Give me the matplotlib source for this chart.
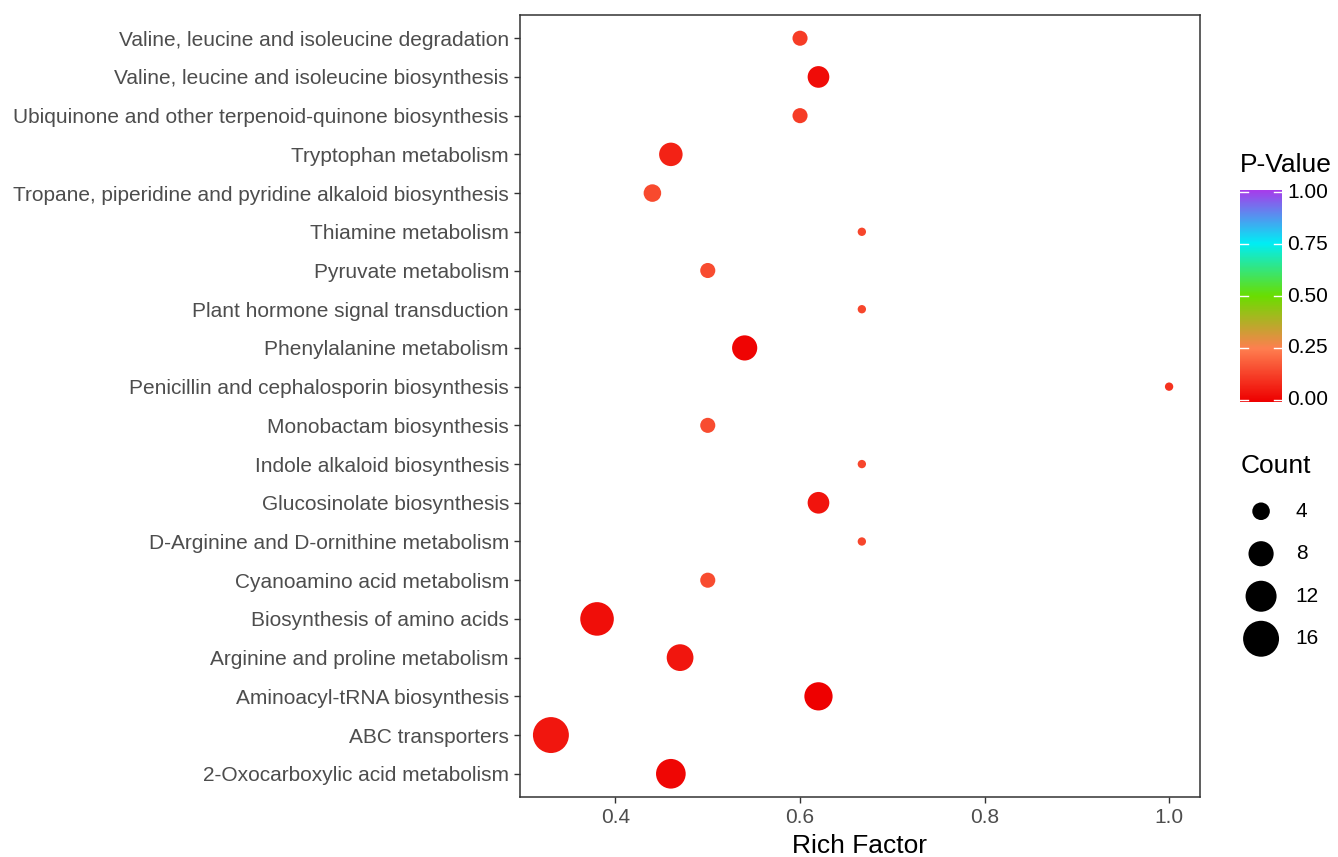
import matplotlib.pyplot as plt
import numpy as np
from matplotlib.colors import LinearSegmentedColormap

plt.rcParams["font.family"] = ["Liberation Sans", "DejaVu Sans"]

# --- data (bottom to top) ---
pathways = [
    "2-Oxocarboxylic acid metabolism",
    "ABC transporters",
    "Aminoacyl-tRNA biosynthesis",
    "Arginine and proline metabolism",
    "Biosynthesis of amino acids",
    "Cyanoamino acid metabolism",
    "D-Arginine and D-ornithine metabolism",
    "Glucosinolate biosynthesis",
    "Indole alkaloid biosynthesis",
    "Monobactam biosynthesis",
    "Penicillin and cephalosporin biosynthesis",
    "Phenylalanine metabolism",
    "Plant hormone signal transduction",
    "Pyruvate metabolism",
    "Thiamine metabolism",
    "Tropane, piperidine and pyridine alkaloid biosynthesis",
    "Tryptophan metabolism",
    "Ubiquinone and other terpenoid-quinone biosynthesis",
    "Valine, leucine and isoleucine biosynthesis",
    "Valine, leucine and isoleucine degradation",
]
rich_factor = [0.46, 0.33, 0.62, 0.47, 0.38, 0.50, 0.667, 0.62, 0.667, 0.50,
               1.00, 0.54, 0.667, 0.50, 0.667, 0.44, 0.46, 0.60, 0.62, 0.60]
counts = [11, 16, 10, 9, 14, 3, 1, 6, 1, 3,
          1, 8, 1, 3, 1, 4, 7, 3, 6, 3]
pvalues = [0.015, 0.045, 0.003, 0.045, 0.03, 0.15, 0.14, 0.04, 0.14, 0.15,
           0.10, 0.01, 0.14, 0.15, 0.14, 0.145, 0.07, 0.12, 0.025, 0.12]

legend_counts = [4, 8, 12, 16]
cbar_ticks = [0.00, 0.25, 0.50, 0.75, 1.00]

# ggplot-like colour gradient
cmap = LinearSegmentedColormap.from_list(
    "pval",
    [(0.0, "#EE0000"), (0.25, "#FF7F50"), (0.5, "#6ADE00"),
     (0.75, "#00EEF5"), (1.0, "#A63DEB")])

# ggplot area_pal-style size mapping -> matplotlib marker area
CMIN, CMAX = 1, 16
PX_PER_GGPT = 1.94


def marker_area(c):
    c = np.asarray(c, dtype=float)
    size = 1 + 5 * (np.sqrt(c) - np.sqrt(CMIN)) / (np.sqrt(CMAX) - np.sqrt(CMIN))
    d_ggpt = size * 2.845 + 0.945
    d_px = d_ggpt * PX_PER_GGPT + 1
    d_mpl = d_px * 72 / 100
    return d_mpl ** 2


W, H = 1338, 857
fig = plt.figure(figsize=(W / 100, H / 100), dpi=100)


def px_rect(x0, y0, x1, y1):
    return [x0 / W, 1 - y1 / H, (x1 - x0) / W, (y1 - y0) / H]


ax = fig.add_axes(px_rect(520, 15, 1200, 797))
ypos = np.arange(len(pathways))
ax.scatter(rich_factor, ypos, s=marker_area(counts), c=pvalues, cmap=cmap,
           vmin=0, vmax=1, edgecolors="none", zorder=3)
ax.set_xlim(0.2965, 1.0335)
ax.set_ylim(-0.6, len(pathways) - 0.4)
ax.set_yticks(ypos)
ax.set_yticklabels(pathways)
ax.set_xticks([0.4, 0.6, 0.8, 1.0])
ax.set_xticklabels(["0.4", "0.6", "0.8", "1.0"])
ax.tick_params(axis="both", colors="#333333", labelcolor="#4D4D4D",
               labelsize=15, length=4, width=1)
ax.tick_params(axis="y", pad=4)
ax.tick_params(axis="x", pad=4)
for sp in ax.spines.values():
    sp.set_color("#333333")
    sp.set_linewidth(1.1)
ax.set_xlabel("Rich Factor", fontsize=19, color="black", labelpad=5)

# colour bar
cax = fig.add_axes(px_rect(1240, 190, 1282, 402))
grad = np.linspace(0, 1, 300).reshape(-1, 1)
cax.imshow(grad, aspect="auto", cmap=cmap, origin="lower",
           extent=[0, 1, -0.01, 1.01])
cax.set_xlim(0, 1)
cax.set_ylim(-0.01, 1.01)
for t in cbar_ticks:
    cax.plot([0, 0.2], [t, t], color="white", lw=1)
    cax.plot([0.8, 1], [t, t], color="white", lw=1)
    cax.text(1.12, t, f"{t:.2f}", transform=cax.transData, va="center",
             ha="left", fontsize=15, color="black")
cax.axis("off")
fig.text(1240 / W, 1 - 165 / H, "P-Value", fontsize=19, va="center",
         ha="left", color="black")

# size legend
fig.text(1241 / W, 1 - 466 / H, "Count", fontsize=19, va="center",
         ha="left", color="black")
lax = fig.add_axes(px_rect(1240, 490, 1338, 660))
lax.set_xlim(0, 1)
lax.set_ylim(len(legend_counts) - 0.5, -0.5)
lax.axis("off")
lidx = np.arange(len(legend_counts))
lax.scatter([0.215] * len(legend_counts), lidx, s=marker_area(legend_counts),
            color="black", edgecolors="none", clip_on=False)
for i, c in enumerate(legend_counts):
    lax.text(0.57, i, str(c), va="center", ha="left", fontsize=15,
             color="black")

fig.savefig("out.png", dpi=100)
